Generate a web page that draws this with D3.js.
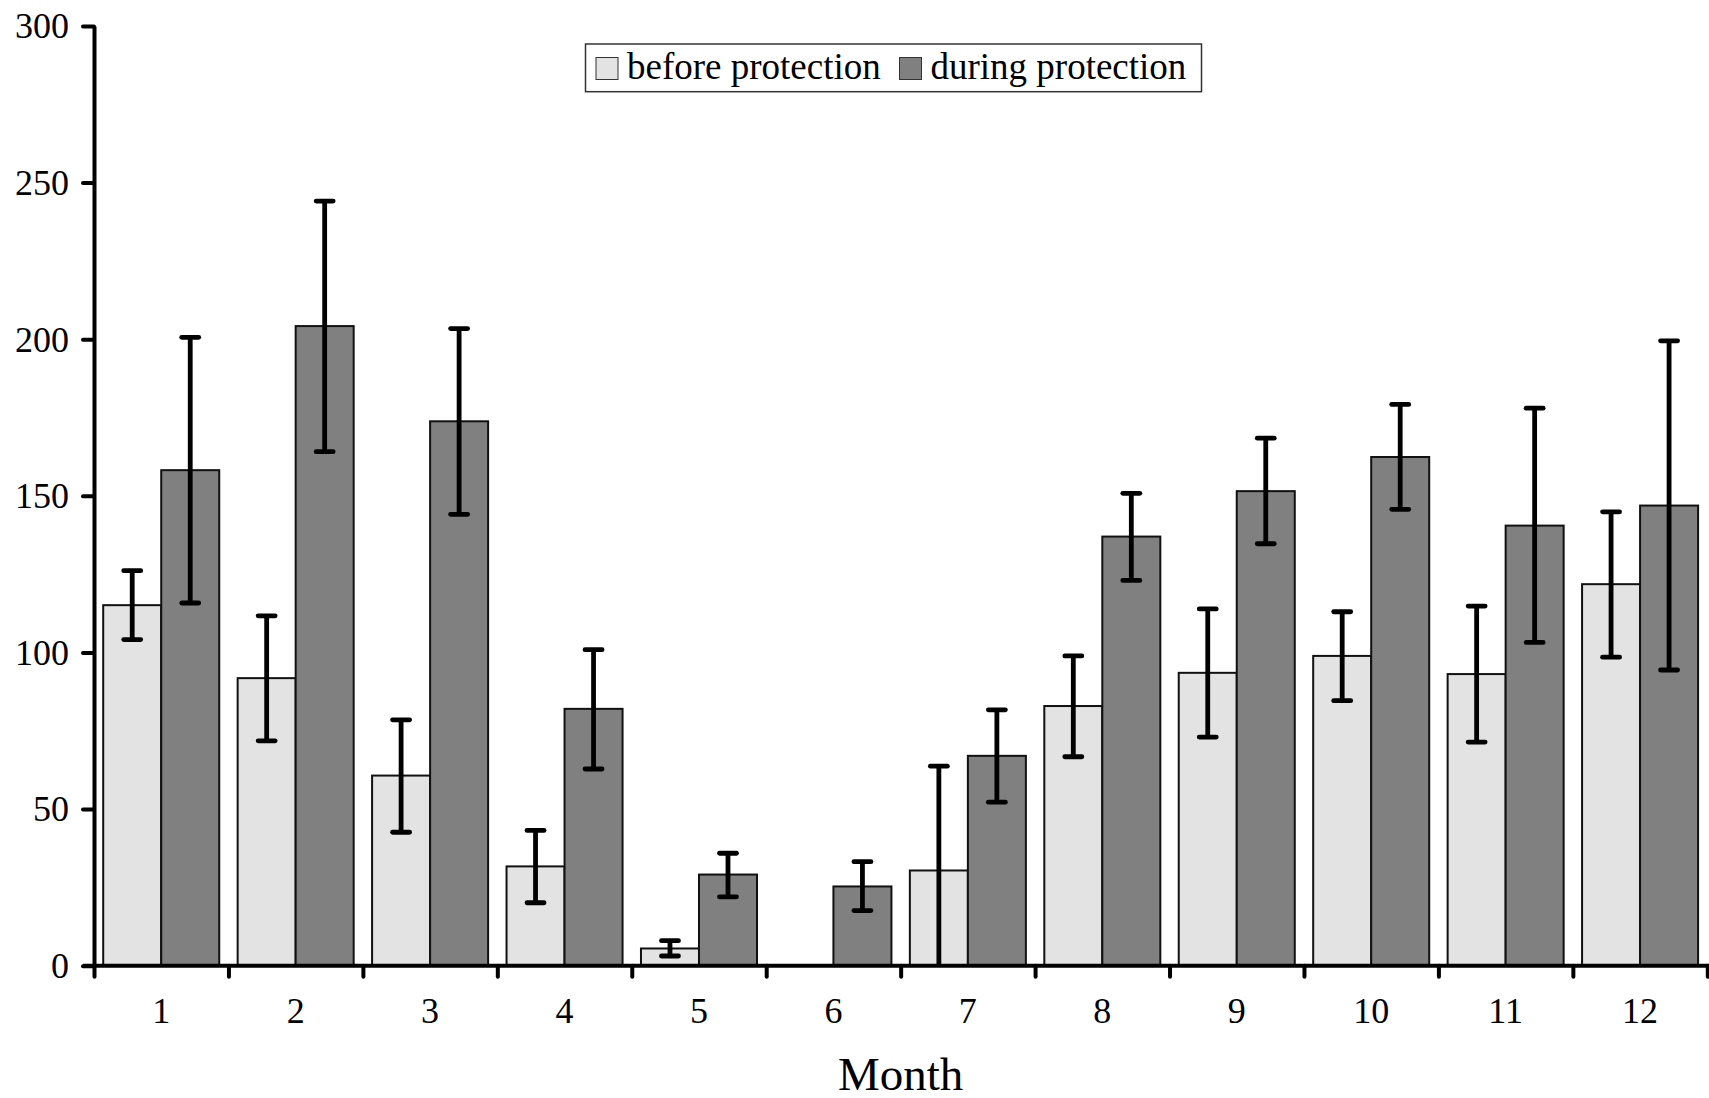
<!DOCTYPE html>
<html>
<head>
<meta charset="utf-8">
<script src="https://cdn.jsdelivr.net/npm/d3@7"></script>
<style>
  html, body { margin: 0; padding: 0; background: #fff; }
  svg { display: block; font-family: "Liberation Serif", "DejaVu Serif", serif; }
</style>
</head>
<body>
<div class="container"></div>
<script>
// data
var months = ["1", "2", "3", "4", "5", "6", "7", "8", "9", "10", "11", "12"];
var seriesNames = ["before protection", "during protection"];
var beforeVals = [115.1, 91.8, 60.7, 31.7, 5.5, 0, 30.4, 82.9, 93.5, 98.9, 93.1, 121.8];
var beforeLow  = [104.1, 71.8, 42.6, 20.1, 3.1, 0, 0, 66.7, 73.0, 84.6, 71.4, 98.5];
var beforeHigh = [126.1, 111.7, 78.5, 43.2, 8.0, 0, 63.7, 98.9, 113.9, 113.0, 114.8, 144.9];
var duringVals = [158.2, 204.2, 173.8, 82.0, 29.1, 25.3, 67.0, 137.0, 151.5, 162.4, 140.5, 146.9];
var duringLow  = [115.8, 164.1, 144.1, 62.8, 22.0, 17.6, 52.2, 123.0, 134.7, 145.7, 103.2, 94.4];
var duringHigh = [200.6, 244.1, 203.4, 100.9, 35.9, 33.2, 81.7, 150.8, 168.4, 179.2, 178.0, 199.5];
var yTicks = [0, 50, 100, 150, 200, 250, 300];

var svgWidth = 1709, svgHeight = 1098;
var plotLeft = 94, plotRight = 1707.3, plotTop = 26, plotBottom = 965.7;

var svg = d3.select(".container")
  .append("svg")
  .attr("width", svgWidth)
  .attr("height", svgHeight);

// 每个月两根柱子
var rows = months.map(function(m, i) {
  return [
    { month: m, key: seriesNames[0], v: beforeVals[i], lo: beforeLow[i], hi: beforeHigh[i] },
    { month: m, key: seriesNames[1], v: duringVals[i], lo: duringLow[i], hi: duringHigh[i] }
  ];
});

var pad = 0.137;
var x0 = d3.scaleBand()
  .domain(months)
  .range([plotLeft, plotRight])
  .paddingInner(pad)
  .paddingOuter(pad / 2);
var x1 = d3.scaleBand()
  .domain(seriesNames)
  .range([0, x0.bandwidth()]);
var xEdge = d3.scaleLinear()
  .domain([0, months.length])
  .range([plotLeft, plotRight]);
var y = d3.scaleLinear()
  .domain([0, 300])
  .range([plotBottom, plotTop]);
var color = d3.scaleOrdinal()
  .domain(seriesNames)
  .range(["#e3e3e3", "#808080"]);

var groups = svg.append("g")
  .attr("class", "bars")
  .selectAll("g")
  .data(rows)
  .enter()
  .append("g")
  .attr("transform", function(d) { return "translate(" + x0(d[0].month) + ",0)"; });

groups.selectAll("rect")
  .data(function(d) { return d; })
  .enter()
  .append("rect")
  .attr("x", function(d) { return x1(d.key); })
  .attr("y", function(d) { return y(d.v); })
  .attr("width", x1.bandwidth())
  .attr("height", function(d) { return y(0) - y(d.v); })
  .attr("fill", function(d) { return color(d.key); })
  .attr("stroke", "#111")
  .attr("stroke-width", 2);

// 误差线
var errs = groups.selectAll("g.err")
  .data(function(d) { return d.filter(function(e) { return e.hi > e.lo; }); })
  .enter()
  .append("g")
  .attr("class", "err")
  .attr("stroke", "#000")
  .attr("stroke-width", 4.8)
  .attr("stroke-linecap", "round");
var capHalf = 8.5;
errs.append("line")
  .attr("x1", function(d) { return x1(d.key) + x1.bandwidth() / 2; })
  .attr("x2", function(d) { return x1(d.key) + x1.bandwidth() / 2; })
  .attr("y1", function(d) { return y(d.lo); })
  .attr("y2", function(d) { return y(d.hi); })
  .attr("stroke-linecap", "butt");
errs.append("line")
  .attr("x1", function(d) { return x1(d.key) + x1.bandwidth() / 2 - capHalf; })
  .attr("x2", function(d) { return x1(d.key) + x1.bandwidth() / 2 + capHalf; })
  .attr("y1", function(d) { return y(d.hi); })
  .attr("y2", function(d) { return y(d.hi); });
errs.filter(function(d) { return d.lo > 0; })
  .append("line")
  .attr("x1", function(d) { return x1(d.key) + x1.bandwidth() / 2 - capHalf; })
  .attr("x2", function(d) { return x1(d.key) + x1.bandwidth() / 2 + capHalf; })
  .attr("y1", function(d) { return y(d.lo); })
  .attr("y2", function(d) { return y(d.lo); });

// y axis
var yAxis = svg.append("g")
  .attr("transform", "translate(" + plotLeft + ",0)")
  .call(d3.axisLeft(y).tickValues(yTicks).tickSize(11).tickSizeOuter(0).tickPadding(14));
yAxis.select(".domain").attr("stroke", "#000").attr("stroke-width", 4);
yAxis.selectAll(".tick line").attr("stroke", "#000").attr("stroke-width", 4).attr("stroke-linecap", "round");
yAxis.selectAll(".tick text")
  .attr("font-family", "Liberation Serif")
  .attr("font-size", 36)
  .attr("fill", "#000")
  .attr("dy", "0.33em");

// x axis: tick marks on band edges, labels in band centres
var xAxis = svg.append("g")
  .attr("transform", "translate(0," + plotBottom + ")")
  .call(d3.axisBottom(xEdge).tickValues(d3.range(months.length + 1)).tickSize(11).tickSizeOuter(0).tickFormat(""));
xAxis.select(".domain").attr("d", "M" + (plotLeft - 11) + ",0H" + svgWidth).attr("stroke", "#000").attr("stroke-width", 4);
xAxis.selectAll(".tick line").attr("stroke", "#000").attr("stroke-width", 4).attr("stroke-linecap", "round");

var xLabels = svg.append("g")
  .attr("transform", "translate(0," + plotBottom + ")")
  .call(d3.axisBottom(x0).tickSize(0).tickSizeOuter(0));
xLabels.select(".domain").remove();
xLabels.selectAll(".tick text")
  .attr("font-family", "Liberation Serif")
  .attr("font-size", 36)
  .attr("fill", "#000")
  .attr("y", 57)
  .attr("dy", 0);

svg.append("text")
  .attr("x", (plotLeft + plotRight) / 2)
  .attr("y", 1090)
  .attr("text-anchor", "middle")
  .attr("font-size", 47)
  .text("Month");

// legend
var legend = svg.append("g").attr("class", "legend");
legend.append("rect")
  .attr("x", 585.5).attr("y", 44)
  .attr("width", 616).attr("height", 47.7)
  .attr("fill", "#fff")
  .attr("stroke", "#333")
  .attr("stroke-width", 1.5);
var legX = [596, 899.5];
var items = legend.selectAll("g.item")
  .data(seriesNames)
  .enter()
  .append("g")
  .attr("class", "item");
items.append("rect")
  .attr("x", function(d, i) { return legX[i]; })
  .attr("y", 57.5)
  .attr("width", 22)
  .attr("height", 22)
  .attr("fill", function(d) { return color(d); })
  .attr("stroke", "#333")
  .attr("stroke-width", 1);
items.append("text")
  .attr("x", function(d, i) { return legX[i] + 31; })
  .attr("y", 79.3)
  .attr("font-size", 37)
  .text(function(d) { return d; });
</script>
</body>
</html>
